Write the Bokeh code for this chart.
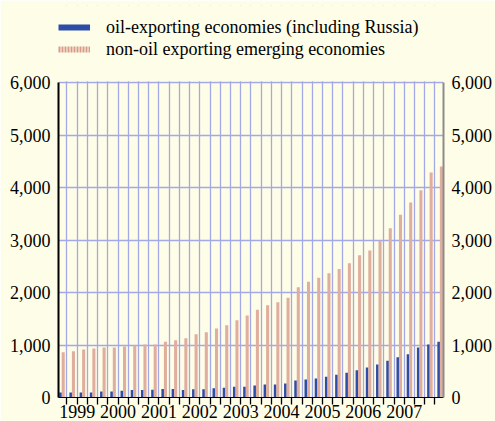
import numpy as np
from bokeh.plotting import figure
from bokeh.models import (ColumnDataSource, Range1d, FixedTicker, LinearAxis, BoxAnnotation,
                          NumeralTickFormatter, Legend, LegendItem)
from bokeh.transform import dodge
from bokeh.embed import file_html
from bokeh.resources import INLINE

# ---- data ----
quarters = ["1999Q1", "1999Q2", "1999Q3", "1999Q4", "2000Q1", "2000Q2", "2000Q3", "2000Q4",
            "2001Q1", "2001Q2", "2001Q3", "2001Q4", "2002Q1", "2002Q2", "2002Q3", "2002Q4",
            "2003Q1", "2003Q2", "2003Q3", "2003Q4", "2004Q1", "2004Q2", "2004Q3", "2004Q4",
            "2005Q1", "2005Q2", "2005Q3", "2005Q4", "2006Q1", "2006Q2", "2006Q3", "2006Q4",
            "2007Q1", "2007Q2", "2007Q3", "2007Q4", "2008Q1", "2008Q2"]
oil_exporting = [95, 95, 95, 97, 115, 115, 130, 145, 145, 148, 160, 160, 145, 158, 158, 175,
                 185, 205, 205, 228, 248, 248, 267, 324, 343, 362, 394, 432, 470, 521, 571, 629,
                 698, 768, 825, 952, 1010, 1060]
non_oil = [863, 882, 914, 933, 952, 952, 971, 990, 1010, 1010, 1060, 1092, 1130, 1206, 1244, 1314,
           1378, 1473, 1562, 1670, 1759, 1816, 1898, 2102, 2203, 2280, 2368, 2450, 2558, 2711, 2800, 2984,
           3225, 3479, 3714, 3949, 4286, 4400]
year_labels = ["1999", "2000", "2001", "2002", "2003", "2004", "2005", "2006", "2007"]
y_ticks = [0, 1000, 2000, 3000, 4000, 5000, 6000]
Y_TOP = 6000

# ---- styles / layout ----
BG = "#FEFDE7"
BLUE = "#2E4DA7"
SALMON = "#DFAE9E"
GRID = "#A2A9E6"
FONT = "Liberation Serif"
FRAME_TOP_PX, AXIS_TOP_PX, AXIS_BOTTOM_PX = 5, 82, 397   # frame extends above the value axis for the key
y_max = Y_TOP * (AXIS_BOTTOM_PX - FRAME_TOP_PX) / (AXIS_BOTTOM_PX - AXIS_TOP_PX)

idx = np.arange(len(quarters))
src = ColumnDataSource(dict(x=idx, oil=oil_exporting, non_oil=non_oil))

qyear = [q[:4] for q in quarters]
ypos = [float(np.mean([i for i, y in enumerate(qyear) if y == yl])) for yl in year_labels]
boundaries = [i + 0.5 for i in range(len(quarters) - 1)]
overrides = {b: "" for b in boundaries}
overrides.update({pos: yl for pos, yl in zip(ypos, year_labels)})

p = figure(width=495, height=427, output_backend="svg", toolbar_location=None,
           x_range=Range1d(-0.33, 37.34), y_range=Range1d(0, y_max),
           min_border_left=58, min_border_right=52, min_border_top=FRAME_TOP_PX,
           min_border_bottom=30,
           background_fill_color=BG, border_fill_color=BG, outline_line_color=None)
p.margin = (0, 0, -6, 0)

p.vbar(x=dodge("x", -0.132, range=p.x_range), top="oil", width=0.26, bottom=0,
       source=src, fill_color=BLUE, line_color=None)
p.vbar(x=dodge("x", 0.132, range=p.x_range), top="non_oil", width=0.3, bottom=0,
       source=src, fill_color=SALMON, line_color=None)

# grids
p.xgrid.ticker = FixedTicker(ticks=boundaries)
p.xgrid.grid_line_color = GRID
p.xgrid.grid_line_width = 1.3
p.ygrid.ticker = FixedTicker(ticks=y_ticks)
p.ygrid.grid_line_color = GRID
p.ygrid.grid_line_width = 1.3

# blank out the grid above the value range (key area)
p.add_layout(BoxAnnotation(bottom=Y_TOP * 1.004, fill_color=BG, fill_alpha=1.0,
                           line_color=None, level="underlay"))

# x axis: quarter ticks, year labels at year centres
xa = p.xaxis[0]
xa.ticker = FixedTicker(ticks=boundaries)
xa.major_label_overrides = overrides
xa.major_label_text_font = FONT
xa.major_label_text_font_size = "18px"
xa.major_label_text_color = "black"
xa.major_label_standoff = 0
xa.major_tick_out = 7
xa.major_tick_in = 0
xa.major_tick_line_width = 1.3
xa.minor_tick_out = 0
xa.minor_tick_in = 0
xa.axis_line_color = "black"
xa.axis_line_width = 1

# left y axis
ya = p.yaxis[0]
ya.ticker = FixedTicker(ticks=y_ticks)
ya.bounds = (0, Y_TOP)
ya.formatter = NumeralTickFormatter(format="0,0")
ya.major_label_text_font = FONT
ya.major_label_text_font_size = "18px"
ya.major_label_text_color = "black"
ya.major_label_standoff = 8
ya.major_tick_out = 0
ya.major_tick_in = 0
ya.minor_tick_out = 0
ya.minor_tick_in = 0
ya.axis_line_color = "black"
ya.axis_line_width = 2

# right y axis
ra = LinearAxis(ticker=FixedTicker(ticks=y_ticks), formatter=NumeralTickFormatter(format="0,0"),
                bounds=(0, Y_TOP),
                major_label_text_font=FONT, major_label_text_font_size="18px",
                major_label_text_color="black", major_label_standoff=8,
                major_tick_out=0, major_tick_in=0, minor_tick_out=0, minor_tick_in=0,
                axis_line_color="#8C8C8C", axis_line_width=2)
p.add_layout(ra, "right")

# legend (inside the frame, above the value range); key swatches use placeholder renderers
r1 = p.line(x=[np.nan], y=[np.nan], line_color=BLUE, line_width=6)
r2 = p.line(x=[np.nan], y=[np.nan], line_color="#D99A8A", line_width=6, line_dash="2 1")
legend = Legend(items=[LegendItem(label="oil-exporting economies (including Russia)", renderers=[r1]),
                       LegendItem(label="non-oil exporting emerging economies", renderers=[r2])],
                location=(0, 337), glyph_width=32, glyph_height=22, label_height=22,
                label_standoff=16, padding=0, margin=0, spacing=-2,
                background_fill_alpha=0, border_line_color=None,
                label_text_font=FONT, label_text_font_size="18px", label_text_color="black")
p.add_layout(legend)

open("out.html", "w").write(file_html(p, INLINE))
